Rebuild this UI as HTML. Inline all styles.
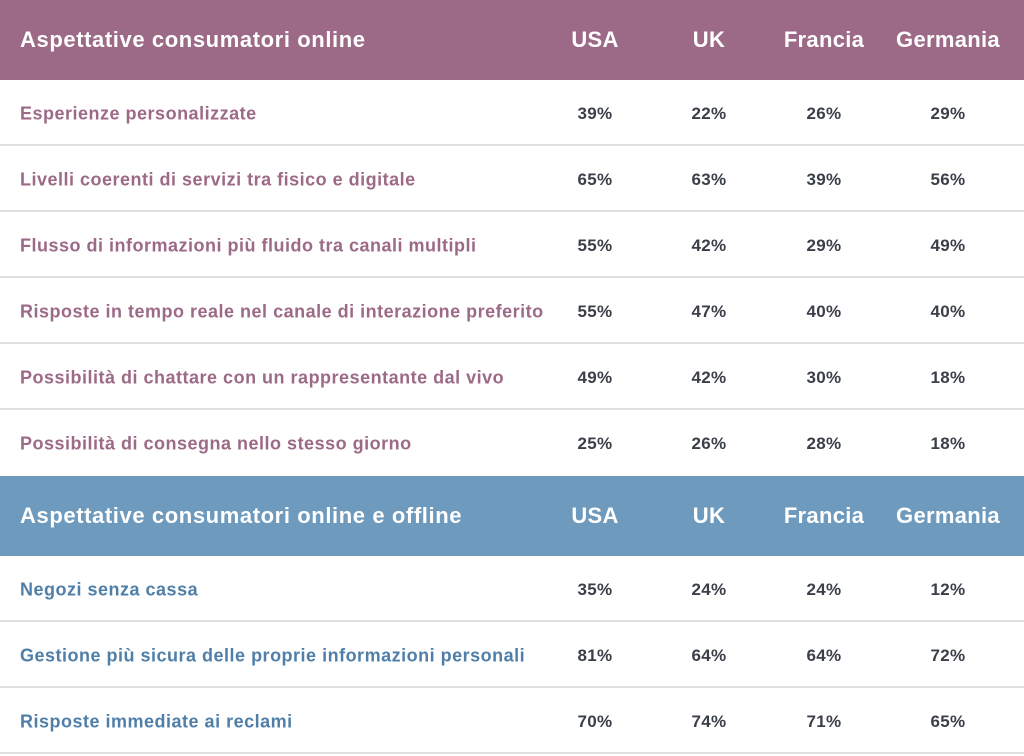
<!DOCTYPE html>
<html><head><meta charset="utf-8"><style>
body{margin:0;width:1024px;height:756px;background:#fff;font-family:"Liberation Sans",sans-serif;position:relative;overflow:hidden}
.h{position:absolute;left:0;width:1024px;height:80px;color:#fff;font-size:22px;font-weight:bold;letter-spacing:0.6px}
.r{position:absolute;left:0;width:1024px;height:64px;border-bottom:2px solid #e0e0e0;font-size:18px;font-weight:bold;letter-spacing:0.5px}
.t{position:absolute;left:20px;top:50%;transform:translateY(-50%);white-space:nowrap}
.r .t,.r .c{margin-top:2px}
.c{position:absolute;top:50%;transform:translate(-50%,-50%);white-space:nowrap;color:#3a3f48;letter-spacing:0.3px}
.r .c{font-size:17px}
.h .c{color:#fff}
.p .t{color:#9c6a86}.b .t{color:#4f7fa8}
</style></head><body>
<div class="h" style="top:0;background:#9c6a86"><span class="t">Aspettative consumatori online</span><span class="c" style="left:595px">USA</span><span class="c" style="left:709px">UK</span><span class="c" style="left:824px">Francia</span><span class="c" style="left:948px">Germania</span></div>
<div class="r p" style="top:80px"><span class="t">Esperienze personalizzate</span><span class="c" style="left:595px">39%</span><span class="c" style="left:709px">22%</span><span class="c" style="left:824px">26%</span><span class="c" style="left:948px">29%</span></div>
<div class="r p" style="top:146px"><span class="t">Livelli coerenti di servizi tra fisico e digitale</span><span class="c" style="left:595px">65%</span><span class="c" style="left:709px">63%</span><span class="c" style="left:824px">39%</span><span class="c" style="left:948px">56%</span></div>
<div class="r p" style="top:212px"><span class="t">Flusso di informazioni più fluido tra canali multipli</span><span class="c" style="left:595px">55%</span><span class="c" style="left:709px">42%</span><span class="c" style="left:824px">29%</span><span class="c" style="left:948px">49%</span></div>
<div class="r p" style="top:278px"><span class="t">Risposte in tempo reale nel canale di interazione preferito</span><span class="c" style="left:595px">55%</span><span class="c" style="left:709px">47%</span><span class="c" style="left:824px">40%</span><span class="c" style="left:948px">40%</span></div>
<div class="r p" style="top:344px"><span class="t">Possibilità di chattare con un rappresentante dal vivo</span><span class="c" style="left:595px">49%</span><span class="c" style="left:709px">42%</span><span class="c" style="left:824px">30%</span><span class="c" style="left:948px">18%</span></div>
<div class="r p" style="top:410px;border-bottom:none"><span class="t">Possibilità di consegna nello stesso giorno</span><span class="c" style="left:595px">25%</span><span class="c" style="left:709px">26%</span><span class="c" style="left:824px">28%</span><span class="c" style="left:948px">18%</span></div>
<div class="h" style="top:476px;background:#6e9abd"><span class="t">Aspettative consumatori online e offline</span><span class="c" style="left:595px">USA</span><span class="c" style="left:709px">UK</span><span class="c" style="left:824px">Francia</span><span class="c" style="left:948px">Germania</span></div>
<div class="r b" style="top:556px"><span class="t">Negozi senza cassa</span><span class="c" style="left:595px">35%</span><span class="c" style="left:709px">24%</span><span class="c" style="left:824px">24%</span><span class="c" style="left:948px">12%</span></div>
<div class="r b" style="top:622px"><span class="t">Gestione più sicura delle proprie informazioni personali</span><span class="c" style="left:595px">81%</span><span class="c" style="left:709px">64%</span><span class="c" style="left:824px">64%</span><span class="c" style="left:948px">72%</span></div>
<div class="r b" style="top:688px"><span class="t">Risposte immediate ai reclami</span><span class="c" style="left:595px">70%</span><span class="c" style="left:709px">74%</span><span class="c" style="left:824px">71%</span><span class="c" style="left:948px">65%</span></div>
</body></html>
